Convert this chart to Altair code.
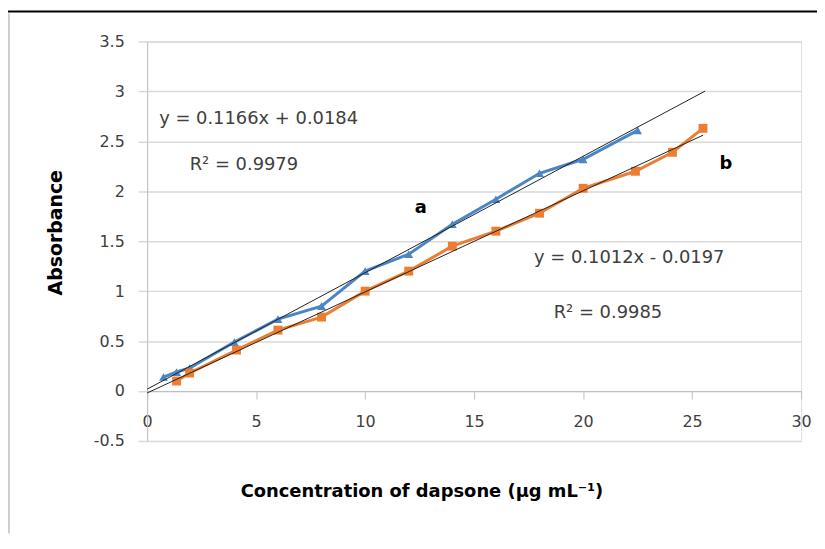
import altair as alt
import pandas as pd

# Series a (blue)
a_x = [0.75, 1.35, 1.95, 4, 6, 8, 10, 12, 14, 16, 18, 20, 22.5]
a_y = [0.14, 0.19, 0.23, 0.49, 0.72, 0.85, 1.2, 1.37, 1.67, 1.92, 2.18, 2.32, 2.61]
# Series b (orange)
b_x = [1.35, 1.95, 4.1, 6, 8, 10, 12, 14, 16, 18, 20, 22.4, 24.1, 25.5]
b_y = [0.10, 0.18, 0.41, 0.61, 0.74, 1.0, 1.2, 1.45, 1.6, 1.78, 2.03, 2.2, 2.39, 2.63]
# Trend lines (endpoints)
ta_x = [0, 25.6]
ta_y = [0.0184, 3.003]
tb_x = [0, 25.5]
tb_y = [-0.0197, 2.561]

# Annotations
ann_text = ["y = 0.1166x + 0.0184", "R² = 0.9979", "y = 0.1012x - 0.0197", "R² = 0.9985"]
ann_x = [0.55, 1.95, 17.75, 18.65]
ann_y = [2.72, 2.26, 1.33, 0.78]
lab_text = ["a", "b"]
lab_x = [12.55, 26.55]
lab_y = [1.83, 2.27]

BLUE = "#4a86c6"
ORANGE = "#ed7d31"
FONT = "DejaVu Sans"

pts = pd.DataFrame({
    "series": ["a"] * len(a_x) + ["b"] * len(b_x),
    "x": a_x + b_x,
    "y": a_y + b_y,
})
trend = pd.DataFrame({
    "series": ["a"] * 2 + ["b"] * 2,
    "x": ta_x + tb_x,
    "y": ta_y + tb_y,
})
ann = pd.DataFrame({"t": ann_text, "x": ann_x, "y": ann_y})
labs = pd.DataFrame({"t": lab_text, "x": lab_x, "y": lab_y})

xs = alt.Scale(domain=[0, 30], nice=False)
ys = alt.Scale(domain=[-0.5, 3.5], nice=False)

xenc = alt.X("x:Q", scale=xs, axis=alt.Axis(
    title="Concentration of dapsone (µg mL⁻¹)", values=[0, 5, 10, 15, 20, 25, 30],
    labelExpr="datum.value + ''",
    grid=False, offset=-50.3, domainColor="#bfbfbf", tickColor="#bfbfbf", tickSize=8,
    labelFont=FONT, labelFontSize=16, labelColor="#404040", labelPadding=15,
    titleFont=FONT, titleFontSize=18, titleFontWeight="bold", titleColor="#000000",
    titlePadding=53, titleX=276, titleAlign="center", labelFlush=False))
yenc = alt.Y("y:Q", scale=ys, axis=alt.Axis(
    title="Absorbance", values=[-0.5, 0, 0.5, 1, 1.5, 2, 2.5, 3, 3.5],
    labelExpr="datum.value + ''",
    grid=True, gridColor="#d9d9d9", gridWidth=1.5, domainColor="#bfbfbf",
    tickColor="#d9d9d9", tickSize=9, tickWidth=1.5,
    labelFont=FONT, labelFontSize=16, labelColor="#404040", labelPadding=14,
    titleFont=FONT, titleFontSize=19, titleFontWeight="bold", titleColor="#000000",
    titlePadding=28, titleY=192, titleAlign="center"))

color = alt.Color("series:N", scale=alt.Scale(domain=["a", "b"], range=[BLUE, ORANGE]), legend=None)

lines = alt.Chart(pts).mark_line(strokeWidth=3).encode(x=xenc, y=yenc, color=color, detail="series:N")
markers = alt.Chart(pts).mark_point(filled=True, size=80, opacity=1).encode(
    x="x:Q", y="y:Q", color=color,
    shape=alt.Shape("series:N", scale=alt.Scale(domain=["a", "b"], range=["triangle-up", "square"]), legend=None))
trendlines = alt.Chart(trend).mark_line(color="#222222", strokeWidth=1).encode(
    x="x:Q", y="y:Q", detail="series:N")
anns = alt.Chart(ann).mark_text(align="left", baseline="middle", font=FONT, fontSize=18, color="#404040").encode(
    x="x:Q", y="y:Q", text="t:N")
labels = alt.Chart(labs).mark_text(align="center", baseline="middle", font=FONT, fontSize=18,
                                   fontWeight="bold", color="#000000").encode(x="x:Q", y="y:Q", text="t:N")

top_rule = alt.Chart(pd.DataFrame({"k": [0]})).mark_rule(color="#000000", strokeWidth=2, clip=False).encode(
    x=alt.value(-140), x2=alt.value(675), y=alt.value(-30))
left_rule = alt.Chart(pd.DataFrame({"k": [0]})).mark_rule(color="#bfbfbf", strokeWidth=1.5, clip=False).encode(
    x=alt.value(-139), y=alt.value(-28), y2=alt.value(495))

chart = alt.layer(lines, markers, trendlines, anns, labels, top_rule, left_rule).properties(
    width=658, height=402, padding={"left": 140, "top": 32, "right": 16, "bottom": 92},
    autosize=alt.AutoSizeParams(type="none"),
).configure_view(stroke=None).configure(background="#ffffff")

chart.save("out.html", embed_options={"renderer": "svg", "actions": False})
